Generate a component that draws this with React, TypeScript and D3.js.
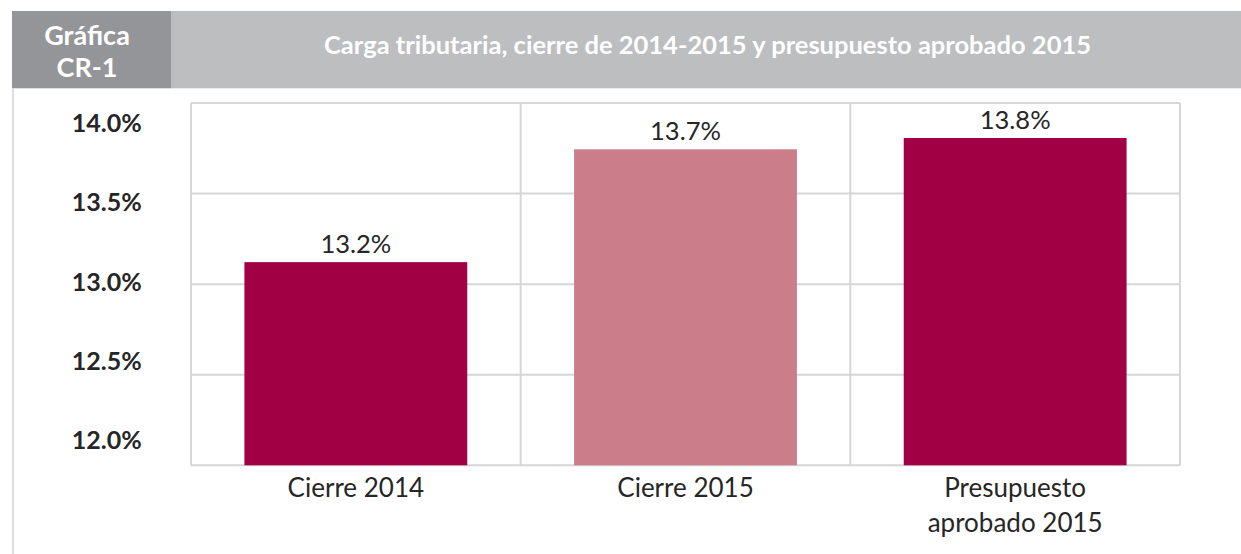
import React from "react";
import * as d3 from "d3";

const categories: string[][] = [["Cierre 2014"], ["Cierre 2015"], ["Presupuesto", "aprobado 2015"]];
const values: number[] = [13.24, 13.74, 13.79];
const barColors: string[] = ["#A20045", "#CC7D8A", "#A20045"];
const tickLabels: number[] = [14.0, 13.5, 13.0, 12.5, 12.0];
const headerLeft: string[] = ["Gráfica", "CR-1"];
const title = "Carga tributaria, cierre de 2014-2015 y presupuesto aprobado 2015";

const W = 1241;
const H = 554;
const FONT = "Lato, 'Open Sans', sans-serif";
const TEXT = "#262626";
const GRID = "#D6D6D8";

const plot = { left: 191, right: 1180, top: 103, bottom: 465.3 };

export default function App() {
  const x = d3
    .scaleBand<number>()
    .domain(d3.range(categories.length))
    .range([plot.left, plot.right])
    .paddingInner(0.324)
    .paddingOuter(0.162);

  const y = d3.scaleLinear().domain([12.34, 13.945]).range([plot.bottom, plot.top]);
  const [d0, d1] = y.domain();
  const gridValues = d3.range(5).map((i) => d0 + (i * (d1 - d0)) / 4);

  const labelY = d3.scaleLinear().domain([12, 14]).range([449.3, 131.7]);

  const step = x.step();
  const boundaries = d3.range(categories.length + 1).map((i) => plot.left + i * step);

  return (
    <svg
      width={W}
      height={H}
      viewBox={`0 0 ${W} ${H}`}
      style={{ position: "absolute", left: 0, top: 0, background: "#fff" }}
    >
      {/* header */}
      <rect x={171} y={11} width={W - 171} height={77.3} fill="#BCBEC0" />
      <rect x={12} y={11} width={159} height={77.3} fill="#939598" />
      <text fontFamily={FONT} fontWeight={700} fontSize={27} fill="#fff" textAnchor="middle">
        <tspan x={87} y={45}>{headerLeft[0]}</tspan>
        <tspan x={87} y={77}>{headerLeft[1]}</tspan>
      </text>
      <text
        x={707.5}
        y={54}
        fontFamily={FONT}
        fontWeight={700}
        fontSize={25.5}
        fill="#fff"
        textAnchor="middle"
      >
        {title}
      </text>
      {/* left frame line */}
      <line x1={13} x2={13} y1={88.3} y2={H} stroke="#D3D3D5" strokeWidth={1.5} />

      {/* grid */}
      {gridValues.map((v, i) => (
        <line
          key={"h" + i}
          x1={plot.left}
          x2={plot.right}
          y1={y(v)}
          y2={y(v)}
          stroke={GRID}
          strokeWidth={2}
        />
      ))}
      {boundaries.map((bx, i) => (
        <line key={"v" + i} x1={bx} x2={bx} y1={plot.top} y2={plot.bottom} stroke={GRID} strokeWidth={2} />
      ))}

      {/* bars */}
      {values.map((v, i) => (
        <rect
          key={"b" + i}
          x={x(i)!}
          y={y(v)}
          width={x.bandwidth()}
          height={plot.bottom - y(v)}
          fill={barColors[i]}
        />
      ))}

      {/* data labels */}
      {values.map((v, i) => (
        <text
          key={"dl" + i}
          x={x(i)! + x.bandwidth() / 2}
          y={y(v) - 9}
          fontFamily={FONT}
          fontSize={25.5}
          fill={TEXT}
          textAnchor="middle"
        >
          {v.toFixed(1) + "%"}
        </text>
      ))}

      {/* y tick labels */}
      {tickLabels.map((t, i) => (
        <text
          key={"t" + i}
          x={141.7}
          y={labelY(t)}
          fontFamily={FONT}
          fontWeight={700}
          fontSize={25}
          fill={TEXT}
          textAnchor="end"
        >
          {t.toFixed(1) + "%"}
        </text>
      ))}

      {/* category labels */}
      {categories.map((lines, i) => (
        <text
          key={"c" + i}
          fontFamily={FONT}
          fontSize={26}
          fill={TEXT}
          textAnchor="middle"
        >
          {lines.map((l, j) => (
            <tspan key={j} x={x(i)! + x.bandwidth() / 2} y={497 + j * 35}>
              {l}
            </tspan>
          ))}
        </text>
      ))}
    </svg>
  );
}
